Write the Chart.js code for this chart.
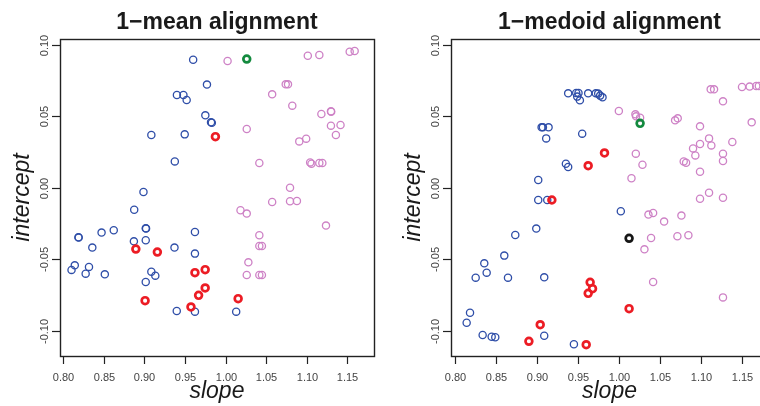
<!DOCTYPE html>
<html>
<head>
<meta charset="utf-8">
<script src="https://cdn.jsdelivr.net/npm/chart.js@4/dist/chart.umd.min.js"></script>
<style>
  html, body { margin: 0; padding: 0; background: #fff; overflow: hidden; width: 760px; height: 406px; }
  canvas { position: absolute; top: 0; }
  #meanChart { left: 0; }
  #medoidChart { left: 380px; }
</style>
</head>
<body>
<canvas id="meanChart" width="380" height="406"></canvas>
<canvas id="medoidChart" width="400" height="406"></canvas>
<script>
// Axis ticks shared by both panels
const xTicks = [0.80, 0.85, 0.90, 0.95, 1.00, 1.05, 1.10, 1.15];
const xTickLabels = ["0.80", "0.85", "0.90", "0.95", "1.00", "1.05", "1.10", "1.15"];
const yTicks = [-0.10, -0.05, 0.00, 0.05, 0.10];
const yTickLabels = ["-0.10", "-0.05", "0.00", "0.05", "0.10"];

// ---- 1-mean alignment ----
const meanBlueSlope = [0.960, 0.977, 0.940, 0.948, 0.952, 0.975, 0.982, 0.983, 0.9085, 0.9496, 0.9374, 0.8988,
  0.8874, 0.9016, 0.9020, 0.8622, 0.8472, 0.8187, 0.8190, 0.8358, 0.8870, 0.9016, 0.9370, 0.9622, 0.9622,
  0.8142, 0.8102, 0.8317, 0.8276, 0.8512, 0.9085, 0.9134, 0.9016, 0.9398, 0.9622, 1.0130];
const meanBlueIntercept = [0.0897, 0.0723, 0.065, 0.065, 0.0615, 0.0508, 0.0459, 0.0456, 0.0371, 0.0375, 0.0186, -0.0028,
  -0.0152, -0.0282, -0.0284, -0.0296, -0.0312, -0.0345, -0.0347, -0.0417, -0.0373, -0.0366, -0.0417, -0.0308, -0.0459,
  -0.0541, -0.0573, -0.0552, -0.0599, -0.0604, -0.0585, -0.0613, -0.0657, -0.0860, -0.0865, -0.0865];

const meanRedSlope = [0.9874, 0.8894, 0.9159, 0.9622, 0.9748, 0.9748, 0.9667, 0.9573, 0.9008, 1.0154];
const meanRedIntercept = [0.0359, -0.0427, -0.0448, -0.0592, -0.0571, -0.0699, -0.0751, -0.0832, -0.0788, -0.0774];

const meanGreenSlope = [1.026];
const meanGreenIntercept = [0.0902];

const meanPinkSlope = [1.0024, 1.1012, 1.1154, 1.1528, 1.1589, 1.0740, 1.0768, 1.0573, 1.0821, 1.1179, 1.1297, 1.1300,
  1.1297, 1.1415, 1.1358, 1.0260, 1.0992, 1.0907, 1.0415, 1.1041, 1.1057, 1.1154, 1.1191, 1.0793, 1.0793,
  1.0878, 1.0573, 1.0183, 1.0260, 1.1236, 1.0415, 1.0415, 1.0447, 1.0280, 1.0260, 1.0415, 1.0447];
const meanPinkIntercept = [0.0888, 0.0925, 0.0930, 0.0953, 0.0958, 0.0725, 0.0725, 0.0655, 0.0576, 0.0517, 0.0536, 0.0534,
  0.0436, 0.0441, 0.0371, 0.0413, 0.0345, 0.0326, 0.0175, 0.0179, 0.0170, 0.0175, 0.0175, 0.0002, -0.0093,
  -0.0091, -0.0098, -0.0156, -0.0179, -0.0263, -0.0331, -0.0406, -0.0406, -0.0520, -0.0608, -0.0608, -0.0608];

// ---- 1-medoid alignment ----
const medoidBlueSlope = [0.938, 0.9478, 0.9506, 0.949, 0.9523, 0.9624, 0.9717, 0.9746, 0.977, 0.9799,
  0.9056, 0.9072, 0.9141, 0.9112, 0.9551, 0.9352, 0.938, 0.9015, 0.9015, 0.9125, 0.8991, 0.8735, 0.8601,
  0.8357, 0.8386, 0.8252, 0.8646, 0.9088, 0.8183, 0.8142, 0.8337, 0.8447, 0.8491, 0.9088, 0.945, 1.0022];
const medoidBlueIntercept = [0.0662, 0.0664, 0.0664, 0.0639, 0.0613, 0.0662, 0.0662, 0.066, 0.0646, 0.0634,
  0.0424, 0.0424, 0.0424, 0.0347, 0.038, 0.017, 0.0147, 0.0056, -0.0084, -0.0084, -0.0284, -0.0329, -0.0473,
  -0.0527, -0.0592, -0.0627, -0.0627, -0.0625, -0.0872, -0.0942, -0.1028, -0.1040, -0.1044, -0.1033, -0.1093, -0.0163];

const medoidRedSlope = [0.9823, 0.9624, 0.9181, 0.9648, 0.9677, 0.9624, 1.0123, 0.9039, 0.8901, 0.9600];
const medoidRedIntercept = [0.0245, 0.0156, -0.0084, -0.0660, -0.0704, -0.0737, -0.0844, -0.0956, -0.1072, -0.1096];

const medoidGreenSlope = [1.0257];
const medoidGreenIntercept = [0.0452];

const medoidBlackSlope = [1.0123];
const medoidBlackIntercept = [-0.0352];

const medoidPinkSlope = [0.9998, 1.0200, 1.0208, 1.0257, 1.0684, 1.0716, 1.0988, 1.1118, 1.1159, 1.1268, 1.1500,
  1.1593, 1.1674, 1.1705, 1.1618, 1.0205, 1.0286, 1.0152, 1.0903, 1.0931, 1.0988, 1.1098, 1.1126, 1.1382,
  1.1268, 1.1268, 1.0789, 1.0818, 1.0988, 1.1098, 1.0988, 1.1268, 1.0359, 1.0416, 1.0550, 1.0761, 1.0391,
  1.0712, 1.0846, 1.0310, 1.0416, 1.1268];
const medoidPinkIntercept = [0.0538, 0.0515, 0.0501, 0.0492, 0.0473, 0.0487, 0.0431, 0.0690, 0.0690, 0.0606, 0.0706,
  0.0709, 0.0713, 0.0713, 0.0459, 0.0240, 0.0163, 0.0068, 0.0277, 0.0228, 0.0308, 0.0347, 0.0298, 0.0322,
  0.0240, 0.0189, 0.0186, 0.0177, 0.0114, -0.0033, -0.0075, -0.0068, -0.0186, -0.0175, -0.0235, -0.0193, -0.0350,
  -0.0338, -0.0331, -0.0429, -0.0657, -0.0765];

// Group styles
const BLUE = '#2F4EA8';
const PINK = '#CE82C6';
const RED = '#EC1C24';
const GREEN = '#138A3E';
const BLACK = '#161616';

function pts(xs, ys) {
  return xs.map((x, i) => ({ x: x, y: ys[i] }));
}

function ring(label, xs, ys, color, thick, order) {
  return {
    label: label,
    data: pts(xs, ys),
    showLine: false,
    pointStyle: 'circle',
    pointRadius: thick ? 3.4 : 3.6,
    pointBorderWidth: thick ? 2.7 : 1.3,
    pointBorderColor: color,
    pointBackgroundColor: 'rgba(0,0,0,0)',
    pointHoverRadius: thick ? 3.4 : 3.6,
    order: order
  };
}

// Draws the R-style frame, outward ticks, rotated y labels and titles
const framePlugin = {
  id: 'frame',
  afterDraw(chart, args, opts) {
    const ctx = chart.ctx;
    const a = chart.chartArea;
    const xs = chart.scales.x;
    const ys = chart.scales.y;
    ctx.save();
    ctx.strokeStyle = '#222';
    ctx.lineWidth = 1.4;
    ctx.strokeRect(Math.round(a.left) + 0.5, Math.round(a.top) + 0.5,
      Math.round(a.right - a.left), Math.round(a.bottom - a.top));

    ctx.lineWidth = 1.2;
    ctx.fillStyle = '#444';
    ctx.font = '11px "Liberation Sans", Arial, sans-serif';
    // x axis
    ctx.textAlign = 'center';
    ctx.textBaseline = 'alphabetic';
    xTicks.forEach((v, i) => {
      const px = Math.round(xs.getPixelForValue(v)) + 0.5;
      ctx.beginPath();
      ctx.moveTo(px, a.bottom);
      ctx.lineTo(px, a.bottom + 8);
      ctx.stroke();
      ctx.fillText(xTickLabels[i], px, a.bottom + 25);
    });
    // y axis
    yTicks.forEach((v, i) => {
      const py = Math.round(ys.getPixelForValue(v)) + 0.5;
      ctx.beginPath();
      ctx.moveTo(a.left - 8, py);
      ctx.lineTo(a.left, py);
      ctx.stroke();
      ctx.save();
      ctx.translate(a.left - 12, py);
      ctx.rotate(-Math.PI / 2);
      ctx.fillText(yTickLabels[i], 0, 0);
      ctx.restore();
    });

    const cx = (a.left + a.right) / 2;
    ctx.fillStyle = '#1a1a1a';
    ctx.font = 'bold 23px "Liberation Sans", Arial, sans-serif';
    ctx.fillText(opts.title, cx, 29);

    ctx.font = 'italic 23px "Liberation Sans", Arial, sans-serif';
    ctx.fillText('slope', cx, a.bottom + 42);
    ctx.save();
    ctx.translate(a.left - 31, (a.top + a.bottom) / 2);
    ctx.rotate(-Math.PI / 2);
    ctx.fillText('intercept', 0, 0);
    ctx.restore();
    ctx.restore();
  }
};

function makeChart(id, title, datasets, xMin, xMax, pad) {
  return new Chart(document.getElementById(id), {
    type: 'scatter',
    data: { datasets: datasets },
    options: {
      responsive: false,
      animation: false,
      devicePixelRatio: 1,
      layout: { padding: pad },
      plugins: {
        legend: { display: false },
        tooltip: { enabled: false },
        frame: { title: title }
      },
      scales: {
        x: { type: 'linear', min: xMin, max: xMax, display: false },
        y: { type: 'linear', min: -0.1175, max: 0.1042, display: false }
      }
    },
    plugins: [framePlugin]
  });
}

makeChart('meanChart', '1\u2212mean alignment', [
  ring('pink', meanPinkSlope, meanPinkIntercept, PINK, false, 4),
  ring('blue', meanBlueSlope, meanBlueIntercept, BLUE, false, 3),
  ring('red', meanRedSlope, meanRedIntercept, RED, true, 2),
  ring('green', meanGreenSlope, meanGreenIntercept, GREEN, true, 1)
], 0.796, 1.1826, { left: 60, top: 39, right: 3, bottom: 50 });

makeChart('medoidChart', '1\u2212medoid alignment', [
  ring('pink', medoidPinkSlope, medoidPinkIntercept, PINK, false, 5),
  ring('blue', medoidBlueSlope, medoidBlueIntercept, BLUE, false, 4),
  ring('red', medoidRedSlope, medoidRedIntercept, RED, true, 3),
  ring('green', medoidGreenSlope, medoidGreenIntercept, GREEN, true, 2),
  ring('black', medoidBlackSlope, medoidBlackIntercept, BLACK, true, 1)
], 0.7951, 1.1817, { left: 71, top: 39, right: 12, bottom: 50 });
</script>
</body>
</html>
